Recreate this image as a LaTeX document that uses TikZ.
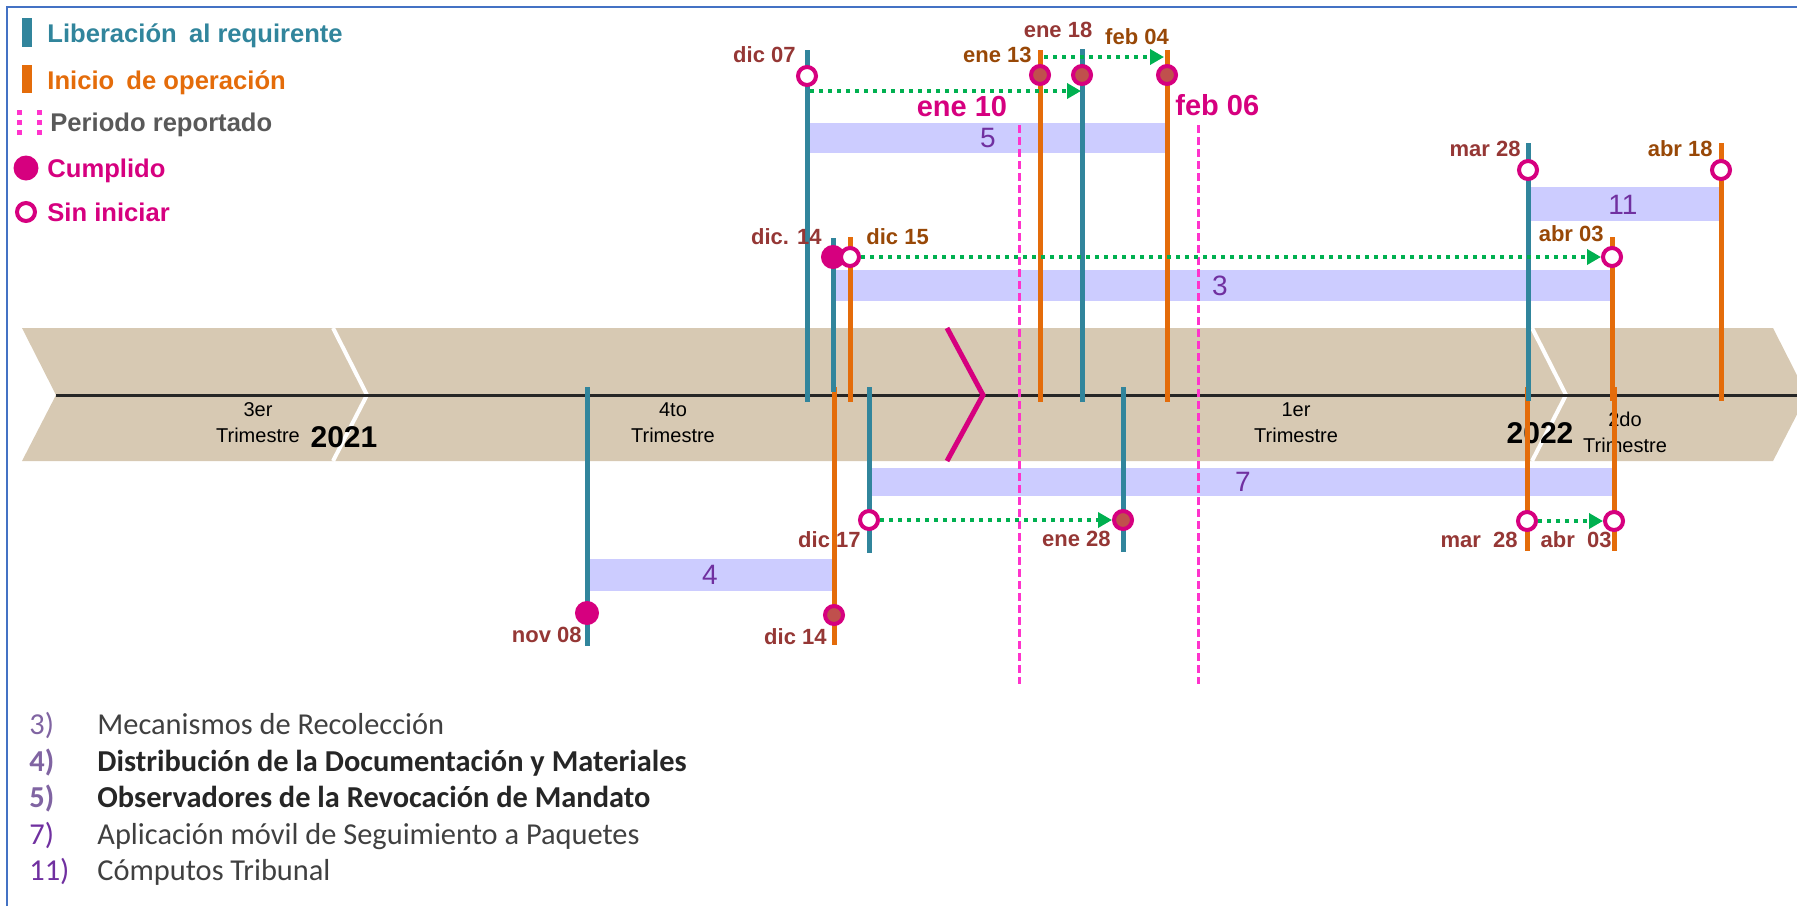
\documentclass[tikz,border=0pt]{standalone}
\usepackage{fontspec}
\setmainfont{Liberation Sans}
\newfontfamily\calibri{Carlito}
\usetikzlibrary{arrows.meta}

\definecolor{azulverde}{HTML}{31859C}
\definecolor{naranja}{HTML}{E46C0A}
\definecolor{rosa}{HTML}{D6007F}
\definecolor{rosaclaro}{HTML}{FF33CC}
\definecolor{verde}{HTML}{00B050}
\definecolor{lila}{HTML}{CCCCFF}
\definecolor{morado}{HTML}{7030A0}
\definecolor{moradoclaro}{HTML}{8064A2}
\definecolor{cafe}{HTML}{953735}
\definecolor{ocre}{HTML}{984807}
\definecolor{arena}{HTML}{D7C9B3}
\definecolor{ladrillo}{HTML}{C0504D}
\definecolor{marco}{HTML}{4472C4}
\definecolor{gris}{HTML}{595959}
\definecolor{texto}{HTML}{404040}
\definecolor{textob}{HTML}{262626}

\begin{document}
\begin{tikzpicture}[line join=miter,x=0.5pt,y=-0.5pt,
    libera/.style={color=azulverde,line width=2.5pt},
    inicio/.style={color=naranja,line width=2.5pt},
    periodo/.style={color=rosaclaro,line width=1.5pt,dash pattern=on 4pt off 2pt},
    sinini/.style={circle,draw=rosa,fill=white,line width=2pt,minimum size=9pt,inner sep=0pt},
    cumpl/.style={circle,draw=rosa,fill=rosa,line width=1pt,minimum size=11pt,inner sep=0pt},
    cumplb/.style={circle,draw=rosa,fill=ladrillo,line width=2pt,minimum size=9pt,inner sep=0pt},
    flecha/.style={color=verde,line width=2pt,dash pattern=on 2pt off 2.5pt,-{Triangle[length=7pt,width=7.5pt]}},
    barra/.style={fill=lila},
    fcafe/.style={text=cafe,font=\bfseries\fontsize{11}{13}\selectfont,inner sep=0pt},
    focre/.style={text=ocre,font=\bfseries\fontsize{11}{13}\selectfont,inner sep=0pt},
    fgrande/.style={text=rosa,font=\bfseries\fontsize{14.5}{17}\selectfont,inner sep=0pt},
    num/.style={text=morado,font=\fontsize{14}{16}\selectfont,inner sep=0pt},
    trim/.style={align=center,font=\fontsize{10}{13}\selectfont,inner sep=0pt},
    anio/.style={font=\bfseries\fontsize{15}{18}\selectfont,inner sep=0pt},
    leyenda/.style={anchor=base west,font=\bfseries\fontsize{12.8}{15}\selectfont,inner sep=0pt},
    lista/.style={anchor=base west,font=\calibri\fontsize{15.2}{18}\selectfont,inner sep=0pt}]
    \useasboundingbox (0,0) rectangle (1797,906);
    \clip (0,0) rectangle (1797,906);

    % Timeline band
    \fill[arena] (22,328) -- (1773,328) -- (1807,395) -- (1773,461) -- (22,461) -- (56,395) -- cycle;
    \draw[white,line width=2pt] (333,328) -- (367,395) -- (333,461);
    \draw[white,line width=2pt] (1532,328) -- (1566,395) -- (1532,461);
    \draw[textob,line width=1.5pt] (56,395) -- (1797,395);
    \draw[rosa,line width=2.5pt] (947,328) -- (983,395) -- (947,461);

    \node[trim] (t3er) at (258,423) {3er\\Trimestre};
    \node[anio] (a2021) at (344,437) {2021};
    \node[trim] (t4to) at (673,423) {4to\\Trimestre};
    \node[trim] (t1er) at (1296,423) {1er\\Trimestre};
    \node[anio] (a2022) at (1540,433) {2022};
    \node[trim] (t2do) at (1625,432) {2do\\Trimestre};

    % Bars
    \fill[barra] (809,123) rectangle (1165,153);
    \fill[barra] (1530,187) rectangle (1719,221);
    \fill[barra] (835,270) rectangle (1612,301);
    \fill[barra] (872,468) rectangle (1613,496);
    \fill[barra] (587,559) rectangle (833,591);
    \node[num] (n5) at (988,138) {5};
    \node[num] (n11) at (1623,205) {11};
    \node[num] (n3) at (1220,286) {3};
    \node[num] (n7) at (1243,482) {7};
    \node[num] (n4) at (710,575) {4};

    % Reported period
    \draw[periodo] (1019,125) -- (1019,684);
    \draw[periodo] (1198,125) -- (1198,684);
    \node[fgrande] (ene10) at (962,107) {ene 10};
    \node[fgrande,anchor=west] (feb06) at (1175,105) {feb 06};

    % Milestone lines
    \foreach \x/\ya/\yb in {587/387/646, 869/387/553, 1123/387/552} {
            \draw[libera] (\x,\ya) -- (\x,\yb);
        }
    \foreach \x/\ya/\yb in {834/387/645, 1527/387/551, 1614/387/551} {
            \draw[inicio] (\x,\ya) -- (\x,\yb);
        }
    \foreach \x/\ya/\yb in {850/237/402, 1040/50/402, 1167/50/402, 1612/237/401, 1721/143/401} {
            \draw[inicio] (\x,\ya) -- (\x,\yb);
        }
    \foreach \x/\ya/\yb in {807/50/402, 833/238/392, 1082/49/402, 1528/143/401} {
            \draw[libera] (\x,\ya) -- (\x,\yb);
        }

    % Markers
    \draw(807,76) node[sinini] (dic07) {};
    \draw(1040,75) node[cumplb] (ene13) {};
    \draw(1082,75) node[cumplb] (ene18) {};
    \draw(1167,75) node[cumplb] (feb04) {};
    \draw(833,257) node[cumpl] (dic14a) {};
    \draw(850,257) node[sinini] (dic15) {};
    \draw(1528,170) node[sinini] (mar28a) {};
    \draw(1721,170) node[sinini] (abr18) {};
    \draw(1612,257) node[sinini] (abr03a) {};
    \draw(587,613) node[cumpl] (nov08) {};
    \draw(834,615) node[cumplb] (dic14b) {};
    \draw(869,520) node[sinini] (dic17) {};
    \draw(1123,520) node[cumplb] (ene28) {};
    \draw(1527,521) node[sinini] (mar28b) {};
    \draw(1614,521) node[sinini] (abr03b) {};

    % Arrows
    \coordinate (d1) at (810,91);
    \coordinate (d2) at (1081,91);
    \coordinate (e1) at (1044,57);
    \coordinate (e2) at (1164,57);
    \draw[flecha] (d1) -- (d2);
    \draw[flecha] (e1) -- (e2);
    \foreach \source/\target in {dic15/abr03a, dic17/ene28, mar28b/abr03b} {
            \draw[flecha] (\source) -- (\target);
        }

    % Dates
    \node[fcafe,anchor=east] (tdic07) at (796,55) {dic 07};
    \node[focre,anchor=east] (tene13) at (1032,55) {ene 13};
    \node[fcafe] (tene18) at (1058,30) {ene 18};
    \node[focre] (tfeb04) at (1137,37) {feb 04};
    \node[fcafe,anchor=east] (tdic14a) at (822,237) {dic. 14};
    \node[focre,anchor=west] (tdic15) at (866,237) {dic 15};
    \node[fcafe,anchor=east] (tmar28a) at (1521,149) {mar 28};
    \node[focre,anchor=east] (tabr18) at (1713,149) {abr 18};
    \node[focre,anchor=east] (tabr03a) at (1604,234) {abr 03};
    \node[fcafe,anchor=east] (tnov08) at (582,635) {nov 08};
    \node[fcafe,anchor=east] (tdic14b) at (827,637) {dic 14};
    \node[fcafe,anchor=east] (tdic17) at (861,540) {dic 17};
    \node[fcafe,anchor=east] (tene28) at (1111,539) {ene 28};
    \node[fcafe,anchor=east] (tmar28b) at (1518,540) {mar\ \ 28};
    \node[fcafe,anchor=east] (tabr03b) at (1612,540) {abr\ \ 03};

    % Legend
    \fill[azulverde] (22,18) rectangle (32,47);
    \fill[naranja] (22,65) rectangle (32,93);
    \draw[rosaclaro,line width=2.5pt,dash pattern=on 2.5pt off 2.5pt] (19,110) -- (19,135);
    \draw[rosaclaro,line width=2.5pt,dash pattern=on 2.5pt off 2.5pt] (39,110) -- (39,135);
    \draw(26,168) node[circle,fill=rosa,minimum size=12.5pt,inner sep=0pt] (lcumpl) {};
    \draw(26,212) node[sinini] (lsinini) {};
    \node[leyenda,text=azulverde] (llibera) at (47,42) {Liberación\hspace{0.2em} al requirente};
    \node[leyenda,text=naranja] (linicio) at (47,89) {Inicio\hspace{0.2em} de operación};
    \node[leyenda,text=gris] (lperiodo) at (50,131) {Periodo reportado};
    \node[leyenda,text=rosa] (lcumpltx) at (47,177) {Cumplido};
    \node[leyenda,text=rosa] (lsininitx) at (47,221) {Sin iniciar};

    % List of activities
    \foreach \y/\n/\cn/\ct/\t [count=\i] in {
            734/3)/moradoclaro/texto/{Mecanismos de Recolección},
            771/{\bfseries 4)}/moradoclaro/textob/{\bfseries Distribución de la Documentación y Materiales},
            807/{\bfseries 5)}/moradoclaro/textob/{\bfseries Observadores de la Revocación de Mandato},
            844/7)/morado/texto/{Aplicación móvil de Seguimiento a Paquetes},
            880/11)/morado/texto/{Cómputos Tribunal}} {
            \node[lista,text=\cn] (num\i) at (29,\y) {\n};
            \node[lista,text=\ct] (item\i) at (97,\y) {\t};
        }

    % Frame
    \draw[marco,line width=1pt] (7,906) -- (7,7) -- (1797,7);
\end{tikzpicture}
\end{document}
